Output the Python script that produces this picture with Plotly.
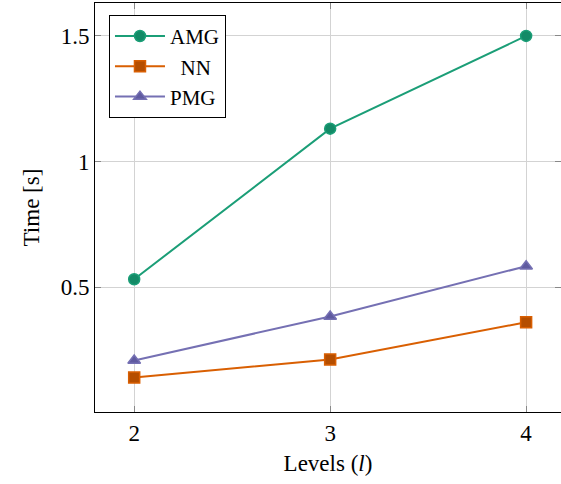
import plotly.graph_objects as go

levels = [2, 3, 4]
amg = [0.532, 1.131, 1.50]
nn = [0.141, 0.213, 0.361]
pmg = [0.209, 0.384, 0.584]

series = [
    ("AMG", amg, "#1b9e77", "#138a66", "circle"),
    ("\u2002NN", nn, "#d95f02", "#b54e00", "square"),
    ("PMG", pmg, "#7570b3", "#5f5aa0", "triangle-up"),
]

fig = go.Figure()
for name, vals, col, fillc, sym in series:
    fig.add_trace(go.Scatter(
        x=levels, y=vals, name=name, mode="lines+markers",
        line=dict(color=col, width=2),
        marker=dict(symbol=sym, size=11, color=fillc, line=dict(color=col, width=1.5)),
    ))

font = "Liberation Serif"
fs = 23
fig.update_layout(
    width=561, height=484,
    margin=dict(l=95, r=0, t=3, b=72),
    paper_bgcolor="white", plot_bgcolor="white",
    font=dict(family=font, size=fs, color="black"),
    showlegend=True,
    legend=dict(x=0.03, y=0.971, xanchor="left", yanchor="top",
                bordercolor="black", borderwidth=1, bgcolor="white",
                font=dict(family=font, size=21), itemwidth=50, entrywidth=100,
                tracegroupgap=0),
)
fig.update_xaxes(
    range=[1.8, 4.178], tickvals=levels, ticktext=["2", "3", "4"],
    tickfont=dict(family=font, size=fs),
    showgrid=True, gridcolor="#d3d3d3", gridwidth=1,
    showline=True, linecolor="black", linewidth=1, mirror="allticks",
    ticks="inside", ticklen=6, tickcolor="#888888",
    title=dict(text="Levels (<i>l</i>)", standoff=10, font=dict(family=font, size=fs)),
    zeroline=False,
)
fig.update_yaxes(
    range=[0.004, 1.631], tickvals=[0.5, 1, 1.5], ticktext=["0.5", "1", "1.5"],
    tickfont=dict(family=font, size=fs),
    showgrid=True, gridcolor="#d3d3d3", gridwidth=1,
    showline=True, linecolor="black", linewidth=1, mirror="allticks",
    ticks="inside", ticklen=6, tickcolor="#888888",
    title=dict(text="Time [s]", standoff=14, font=dict(family=font, size=fs)),
    zeroline=False,
)
fig.write_html("out.html")
